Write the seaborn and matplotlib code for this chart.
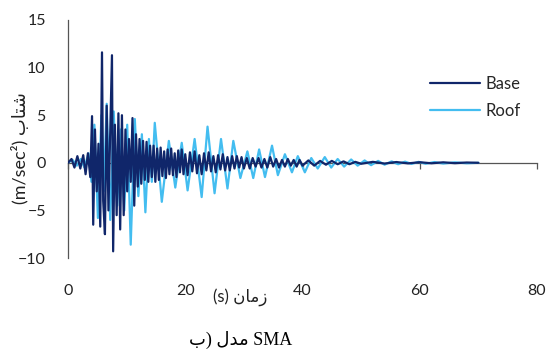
import numpy as np
import pandas as pd
import matplotlib
matplotlib.use("Agg")
import matplotlib.pyplot as plt
import seaborn as sns

# ---- data ----
base_t = [0.0, 0.6, 1.1, 1.6, 2.1, 2.6, 3.0, 3.4, 3.8, 4.1, 4.3, 4.6, 4.9, 5.2, 5.5, 5.8,
          6.0, 6.3, 6.6, 6.9, 7.2, 7.5, 7.7, 8.0, 8.3, 8.6, 8.9, 9.2, 9.5, 9.8, 10.1, 10.4,
          10.7, 11.0, 11.3, 11.6, 11.9, 12.2, 12.5, 12.8, 13.1, 13.4, 13.7, 14.0, 14.3, 14.6,
          14.9, 15.2, 15.5, 15.8, 16.1, 16.4, 16.7, 17.0, 17.3, 17.6, 17.9, 18.2, 18.5, 18.8,
          19.1, 19.4, 19.7, 20.0, 20.4, 20.8, 21.2, 21.6, 22.0, 22.4, 22.8, 23.2, 23.6, 24.0,
          24.4, 24.8, 25.2, 25.6, 26.0, 26.4, 26.8, 27.2, 27.6, 28.0, 28.4, 28.8, 29.2, 29.6,
          30.0, 30.5, 31.0, 31.5, 32.0, 32.5, 33.0, 33.5, 34.0, 34.5, 35.0, 35.5, 36.0, 36.5,
          37.0, 37.5, 38.0, 38.5, 39.0, 39.5, 40.0, 41.0, 42.0, 43.0, 44.0, 45.0, 46.0, 47.0,
          48.0, 49.0, 50.0, 52.0, 54.0, 56.0, 58.0, 60.0, 62.0, 64.0, 66.0, 68.0, 70.0]
base_a = [0.0, 0.4, -0.5, 0.7, -0.6, 0.8, -1.2, 1.0, -1.5, 4.9, -6.5, 3.5, -3.0, 2.0, -6.7, 11.6,
          -4.0, -7.5, 6.0, -5.0, 3.0, 11.3, -9.3, 4.0, -5.5, 5.2, -7.0, 5.0, -5.5, 3.5, -3.0, 2.5,
          -2.0, 4.7, -4.5, 3.0, -2.5, 2.5, -2.2, 2.3, -1.8, 2.2, -2.0, 1.8, -1.5, 1.8,
          -2.0, 1.5, -1.8, 1.6, -1.4, 1.2, -1.6, 1.4, -1.2, 1.5, -1.3, 1.0, -1.5, 1.3,
          -1.0, 1.4, -1.2, 0.9, -1.3, 1.1, -0.9, 1.2, -1.1, 0.8, -1.2, 1.0, -0.8, 1.1,
          -0.9, 0.7, -1.0, 0.8, -0.7, 0.9, -0.8, 0.6, -0.8, 0.7, -0.6, 0.7, -0.5, 0.6,
          -0.6, 0.5, -0.6, 0.5, -0.4, 0.5, -0.5, 0.4, -0.5, 0.6, -0.4, 0.4, -0.5, 0.3,
          -0.4, 0.4, -0.3, 0.3, -0.4, 0.3, -0.3, 0.25, -0.3, 0.2, -0.2, 0.2, -0.15, 0.15,
          -0.15, 0.1, -0.1, 0.1, -0.08, 0.08, -0.06, 0.06, -0.05, 0.05, -0.04, 0.03, 0.0]

roof_t = [0.0, 0.8, 1.5, 2.2, 2.8, 3.5, 4.0, 4.5, 5.1, 5.7, 6.1, 6.6, 7.2, 7.8, 8.4, 9.0,
          9.6, 10.1, 10.7, 11.4, 12.0, 12.6, 13.2, 13.8, 14.3, 14.8, 16.0, 17.2, 18.3, 19.4,
          20.4, 21.6, 22.8, 23.8, 25.0, 26.1, 27.2, 28.2, 29.4, 30.6, 31.6, 32.6, 33.6, 34.8,
          35.8, 37.0, 38.2, 39.2, 40.4, 41.5, 42.6, 43.8, 44.9, 46.0, 47.1, 48.3, 49.4, 50.6,
          51.7, 52.9, 54.0, 55.2, 56.3, 57.5, 58.6, 59.8, 61.0, 62.5, 64.0, 66.0, 68.0, 70.0]
roof_a = [0.0, 0.3, -0.3, 0.4, -0.5, 1.0, -2.0, 4.0, -5.8, 5.0, -3.0, 6.2, -6.0, 5.4, -4.5, 3.5,
          -5.0, 4.0, -8.6, 4.6, -3.5, 3.0, -5.2, 2.5, -2.0, 4.2, -4.1, 2.3, -2.6, 2.1,
          -2.9, 2.5, -3.6, 3.8, -3.2, 2.5, -2.7, 2.3, -1.6, 1.2, -1.6, 1.4, -1.5, 1.8,
          -1.3, 0.9, -1.0, 0.7, -1.0, 0.5, -0.6, 0.6, -0.5, 0.4, -0.4, 0.35, -0.3, 0.25,
          -0.25, 0.2, -0.2, 0.15, -0.15, 0.12, -0.12, 0.1, -0.1, 0.08, -0.08, 0.05, -0.05, 0.0]

series_names = ["Base", "Roof"]
series_colors = {"Base": "#10266a", "Roof": "#43bdf0"}
x_ticks = [0, 20, 40, 60, 80]
y_ticks = [-10, -5, 0, 5, 10, 15]

# Arabic-script labels (presentation forms, visual order)
ylabel_txt = "(m/sec\u00b2) " + "\uFE8F\uFE8E\uFE98\uFEB7"          # شتاب (m/sec²)
xlabel_txt = "(s) " + "\uFEE5\uFE8E\uFEE3\uFEAF"                    # زمان (s)
caption_txt = "\uFE8F) " + "\uFEDD\uFEAA\uFEE3" + " SMA"             # ب) مدل SMA

df_base = pd.DataFrame({"t": base_t, "a": base_a, "series": "Base"})
df_roof = pd.DataFrame({"t": roof_t, "a": roof_a, "series": "Roof"})

sns.set_style("white")
plt.rcParams["font.family"] = ["Lato", "DejaVu Sans"]

fig = plt.figure(figsize=(5.52, 3.5), dpi=100)
ax = fig.add_axes([68 / 552, 1 - 258 / 350, (537 - 68) / 552, (258 - 20) / 350])

sns.lineplot(data=df_roof, x="t", y="a", color=series_colors["Roof"], lw=1.6,
             sort=False, estimator=None, ax=ax, label="Roof", zorder=2)
sns.lineplot(data=df_base, x="t", y="a", color=series_colors["Base"], lw=1.6,
             sort=False, estimator=None, ax=ax, label="Base", zorder=3)

ax.set_xlim(0, 80)
ax.set_ylim(-10, 15)
ax.set_xticks(x_ticks)
ax.set_yticks(y_ticks)
ax.set_xlabel("")
ax.set_ylabel("")
for s in ["top", "right", "bottom"]:
    ax.spines[s].set_visible(False)
ax.spines["left"].set_color("#555555")
ax.spines["left"].set_linewidth(0.9)
ax.tick_params(axis="both", length=0, labelsize=11.5, colors="#222222")
ax.tick_params(axis="x", pad=19)
ax.tick_params(axis="y", pad=16)

# zero axis line with tick marks
loc0 = (0 - (-10)) / (15 - (-10))
sec = ax.secondary_xaxis(loc0)
sec.set_xticks(x_ticks)
sec.tick_params(axis="x", direction="out", length=4, width=0.9, color="#555555", labelbottom=False)
sec.set_xticklabels([])
sec.spines["bottom"].set_color("#555555")
sec.spines["bottom"].set_linewidth(0.9)

h, l = ax.get_legend_handles_labels()
order = [l.index(n) for n in series_names]
ax.legend([h[i] for i in order], [l[i] for i in order], frameon=False, fontsize=12,
          loc="center left", bbox_to_anchor=(0.755, 0.675), handlelength=3.0,
          handletextpad=0.3, labelspacing=0.65, borderpad=0)

fig.text(20 / 552, 1 - 148 / 350, ylabel_txt, rotation=90, ha="center", va="center",
         fontsize=13, family=["Lato", "DejaVu Sans"], color="#222222")
fig.text(240 / 552, 1 - 297 / 350, xlabel_txt, ha="center", va="center",
         fontsize=12, family=["Lato", "DejaVu Sans"], color="#222222")
fig.text(241 / 552, 1 - 340 / 350, caption_txt, ha="center", va="center",
         fontsize=13, family=["Liberation Serif", "DejaVu Sans"], color="black")

fig.savefig("out.png", dpi=100)
